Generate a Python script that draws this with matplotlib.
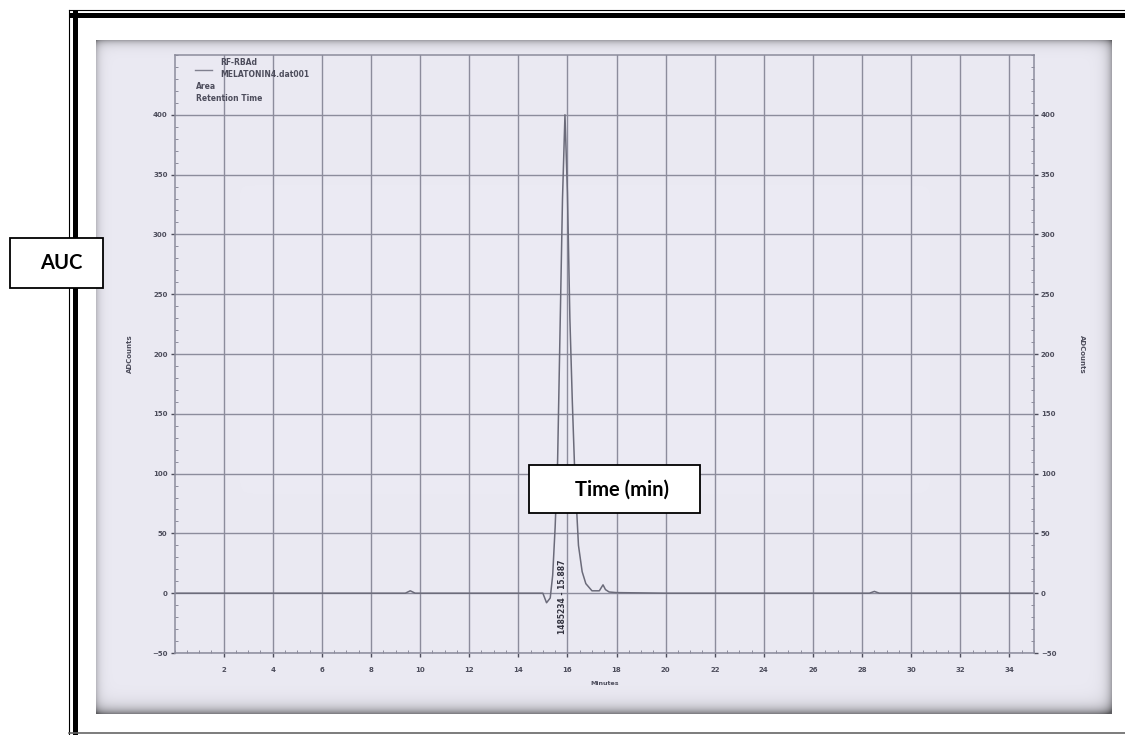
import numpy as np
import matplotlib.pyplot as plt
from matplotlib.lines import Line2D
from matplotlib.patches import Rectangle
from matplotlib.ticker import MultipleLocator

W, H = 1125, 735

# chromatogram trace (minutes, AD counts)
time_min = [0, 5, 9.4, 9.6, 9.8, 14.5, 15.0, 15.15, 15.3, 15.4, 15.5, 15.6, 15.7,
            15.8, 15.9, 16.0, 16.1, 16.2, 16.3, 16.45, 16.6, 16.75, 17.0, 17.3,
            17.45, 17.55, 17.7, 18.0, 20, 28.3, 28.5, 28.7, 35]
counts = [0, 0, 0, 2, 0, 0, 0, -8, -4, 15, 55, 110, 220, 330, 400, 335, 230,
          160, 100, 40, 18, 8, 2, 2, 7, 3, 1, 0.5, 0, 0, 1.5, 0, 0]

x_ticks = [2, 4, 6, 8, 10, 12, 14, 16, 18, 20, 22, 24, 26, 28, 30, 32, 34]
y_ticks = [-50, 0, 50, 100, 150, 200, 250, 300, 350, 400]
trace_names = ['RF-RBAd', 'MELATONIN4.dat001']
peak_area = 1485234
peak_rt = 15.887


def fx(px):
    return px / W


def fy(py):
    return 1 - py / H


fig = plt.figure(figsize=(11.25, 7.35), dpi=100)

# scanned photo background with shaded edges
ph_l, ph_r, ph_t, ph_b = 96, 1112, 40, 714
yy, xx = np.mgrid[0:ph_b - ph_t, 0:ph_r - ph_l]
shade = (0.30 * np.exp(-yy / 4.0) + 0.45 * np.exp(-(ph_b - ph_t - 1 - yy) / 6.0)
         + 0.20 * np.exp(-xx / 4.0) + 0.30 * np.exp(-(ph_r - ph_l - 1 - xx) / 5.0))
base = np.array([235, 234, 243]) / 255
img = base * (1 - np.clip(shade, 0, 0.6))[..., None]
bg = fig.add_axes([fx(ph_l), fy(ph_b), (ph_r - ph_l) / W, (ph_b - ph_t) / H])
bg.imshow(img, aspect='auto', interpolation='bilinear')
bg.set_axis_off()

ink = (0.30, 0.30, 0.36)
grid_c = (0.55, 0.55, 0.61)

ax = fig.add_axes([fx(174.5), fy(653), (1034 - 174.5) / W, (653 - 55) / H])
ax.set_facecolor('none')
ax.set_xlim(0, 35)
ax.set_ylim(-50, 450)
ax.set_xticks(x_ticks)
ax.set_yticks(y_ticks)
ax.xaxis.set_minor_locator(MultipleLocator(0.5))
ax.yaxis.set_minor_locator(MultipleLocator(10))
ax.grid(True, which='major', color=grid_c, lw=1.0)
ax.set_axisbelow(True)
for s in ax.spines.values():
    s.set_color(grid_c)
    s.set_linewidth(1.1)
ax.tick_params(which='major', direction='out', length=3, width=1, color=ink,
               labelsize=5, labelcolor=ink, pad=2, right=True, labelright=True)
ax.tick_params(axis='x', which='major', pad=7)
ax.tick_params(which='minor', direction='in', length=2, width=0.7, color=grid_c, right=True)
for lab in ax.get_xticklabels() + ax.get_yticklabels():
    lab.set_fontweight('bold')

ax.plot(time_min, counts, color=(0.42, 0.42, 0.48), lw=1.1)

ax.set_xlabel('Minutes', fontsize=4.5, color=ink, fontweight='bold', labelpad=6)
ax.set_ylabel('ADCounts', fontsize=5, color=ink, fontweight='bold', labelpad=14)
ax.text(1.056, 0.5, 'ADCounts', transform=ax.transAxes, rotation=270,
        ha='center', va='center', fontsize=5, color=ink, fontweight='bold')

# legend block at top-left
ax.plot([0.024, 0.044], [0.975, 0.975], transform=ax.transAxes, color=(0.5, 0.5, 0.56), lw=1)
ax.text(0.053, 0.987, trace_names[0], transform=ax.transAxes, fontsize=5.5,
        fontweight='bold', color=ink, va='center')
ax.text(0.053, 0.968, trace_names[1], transform=ax.transAxes, fontsize=5.5,
        fontweight='bold', color=ink, va='center')
ax.text(0.025, 0.948, 'Area', transform=ax.transAxes, fontsize=5.5,
        fontweight='bold', color=ink, va='center')
ax.text(0.025, 0.928, 'Retention Time', transform=ax.transAxes, fontsize=5.5,
        fontweight='bold', color=ink, va='center')

# peak annotation
ax.text(15.82, -3, f'{peak_area} - {peak_rt}', rotation=90, ha='center', va='center',
        fontsize=5.5, fontweight='bold', color=(0.2, 0.2, 0.25))

# document frame (thin + thick border)
frame = dict(transform=fig.transFigure, color='black')
fig.add_artist(Line2D([fx(69), fx(69)], [fy(10), fy(735)], lw=0.8, **frame))
fig.add_artist(Line2D([fx(69), fx(1125)], [fy(10), fy(10)], lw=0.8, **frame))
fig.add_artist(Line2D([fx(74.5), fx(74.5)], [fy(12), fy(735)], lw=3.6, **frame))
fig.add_artist(Line2D([fx(72), fx(1125)], [fy(14.5), fy(14.5)], lw=3.6, **frame))
fig.add_artist(Line2D([fx(69), fx(1125)], [fy(733), fy(733)], lw=1.2,
                      transform=fig.transFigure, color=(0.4, 0.4, 0.4)))

# overlaid caption boxes
for (l, t, r, b), label, cx, cy in [((10, 238, 103, 288), 'AUC', 61, 263),
                                    ((529, 465, 700, 513), 'Time (min)', 622, 490)]:
    fig.add_artist(Rectangle((fx(l), fy(b)), (r - l) / W, (b - t) / H,
                             transform=fig.transFigure, facecolor='white',
                             edgecolor='black', lw=1.3, zorder=5))
    fig.text(fx(cx), fy(cy), label, ha='center', va='center', fontsize=14.5,
             fontweight='bold', family=['Lato', 'DejaVu Sans'], zorder=6)

fig.savefig('out.png', dpi=100)
